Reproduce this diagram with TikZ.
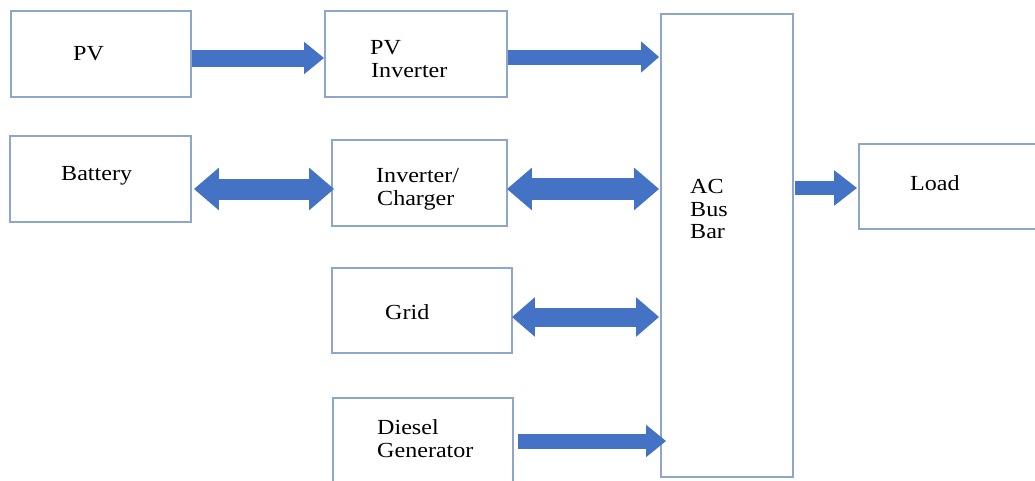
\documentclass[tikz,border=0pt]{standalone}
\usepackage{fontspec}
\setmainfont{Liberation Serif}[FakeStretch=1.12]
\usetikzlibrary{arrows.meta,calc}
\definecolor{boxline}{RGB}{143,166,204}
\definecolor{arrowblue}{RGB}{68,114,196}
\begin{document}
\begin{tikzpicture}[x=1pt,y=-1pt,
  box/.style={draw=boxline, line width=1.8pt, inner sep=0pt, rectangle},
  lbl/.style={anchor=base west, inner sep=0pt, font=\fontsize{21.5}{23}\selectfont},
  blk/.style={draw=arrowblue, line cap=butt}
]
\clip (0,0) rectangle (1035,480);
\fill[white] (0,0) rectangle (1035,480);
% boxes
\node[box, minimum width=180pt, minimum height=86pt] (pv) at (101,54) {};
\node[box, minimum width=182pt, minimum height=86pt] (pvi) at (416,54) {};
\node[box, minimum width=181pt, minimum height=86pt] (bat) at (100.5,179) {};
\node[box, minimum width=175pt, minimum height=86pt] (ic) at (419.5,183) {};
\node[box, minimum width=180pt, minimum height=85pt] (grid) at (422,310.5) {};
\node[box, minimum width=180pt, minimum height=90pt] (dg) at (423,443) {};
\node[box, minimum width=132pt, minimum height=463pt] (ac) at (727,245.5) {};
\node[box, minimum width=181pt, minimum height=85pt] (load) at (949.5,186.5) {};
% labels
\node[lbl] (pv-t) at (73,60) {PV};
\node[lbl] (pvi-t1) at (370,54) {PV};
\node[lbl] (pvi-t2) at (371,77) {Inverter};
\node[lbl] (bat-t) at (61,180) {Battery};
\node[lbl] (ic-t1) at (376,182) {Inverter/};
\node[lbl] (ic-t2) at (377,205) {Charger};
\node[lbl] (grid-t) at (385,319) {Grid};
\node[lbl] (dg-t1) at (377,434) {Diesel};
\node[lbl] (dg-t2) at (377,457) {Generator};
\node[lbl] (ac-t1) at (690,193) {AC};
\node[lbl] (ac-t2) at (690,216) {Bus};
\node[lbl] (ac-t3) at (690,238) {Bar};
\node[lbl] (load-t) at (910,190) {Load};
% arrows
\draw[blk, line width=17pt, -{Triangle[width=31pt,length=20pt]}]
  ($(pv.east)+(0,4)$) -- ($(pvi.west)+(0,4)$);
\draw[blk, line width=15pt, -{Triangle[width=30pt,length=18pt]}]
  ($(pvi.east)+(0,3)$) -- ($(ac.west)+(-1,-188.5)$);
\draw[blk, line width=21pt, {Triangle[width=41pt,length=25pt]}-{Triangle[width=41pt,length=25pt]}]
  ($(bat.east)+(2,10)$) -- ($(ic.west)+(3,6)$);
\draw[blk, line width=22pt, {Triangle[width=41pt,length=25pt]}-{Triangle[width=41pt,length=25pt]}]
  ($(ic.east)+(-1,6)$) -- ($(ac.west)+(-1,-56.5)$);
\draw[blk, line width=19pt, {Triangle[width=38pt,length=23pt]}-{Triangle[width=38pt,length=23pt]}]
  ($(grid.east)+(-1,6.5)$) -- ($(ac.west)+(-1,71.5)$);
\draw[blk, line width=15pt, -{Triangle[width=31pt,length=20pt]}]
  ($(dg.east)+(4,-2)$) -- ($(ac.west)+(6,195.5)$);
\draw[blk, line width=14pt, -{Triangle[width=34pt,length=23pt]}]
  ($(ac.east)+(1,-57.5)$) -- ($(load.west)+(-1,1.5)$);
\end{tikzpicture}
\end{document}
